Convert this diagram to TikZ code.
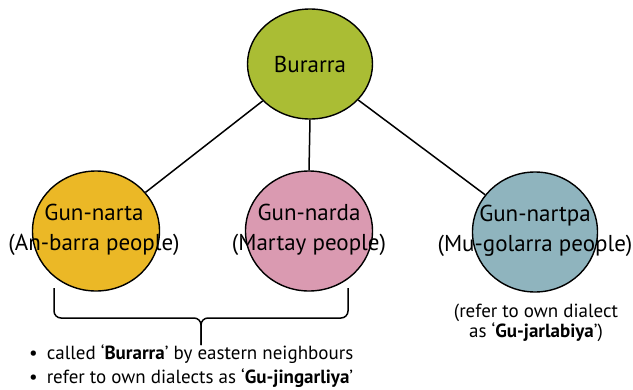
\documentclass[tikz,border=0pt]{standalone}
\usepackage{fontspec}
\setmainfont{PT Sans}
\usetikzlibrary{shapes.geometric}
\definecolor{cBur}{HTML}{AABD34}
\definecolor{cNarta}{HTML}{EBB826}
\definecolor{cNarda}{HTML}{DA9AB1}
\definecolor{cNartpa}{HTML}{8FB4BE}
\begin{document}
\begin{tikzpicture}[x=1pt,y=-1pt,
  circ/.style={ellipse,draw=black,line width=1.4pt,inner sep=0pt,minimum width=127pt,minimum height=120pt},
  lbl/.style={align=center,font=\fontsize{23}{30}\selectfont,inner sep=0pt},
  note/.style={align=center,font=\fontsize{19}{20}\selectfont,inner sep=0pt},
  conn/.style={line width=1.5pt},
  brace/.style={line width=1.5pt,rounded corners=7pt}]
\useasboundingbox (0,0) rectangle (633,389);
\node[circ,fill=cBur,minimum height=110pt,minimum width=125pt] (bur) at (310,64) {};
\node[circ,fill=cNarta] (narta) at (96,231) {};
\node[circ,fill=cNarda] (narda) at (309,231) {};
\node[circ,fill=cNartpa,minimum width=125pt] (nartpa) at (535,232) {};
\draw[conn] (bur) -- (narta);
\draw[conn] (bur.south) -- (narda.north);
\draw[conn] (bur) -- (nartpa);
\node[lbl] (burL) at (bur.center) {Burarra};
\node[lbl] (nartaL) at (94,230) {Gun-narta\\(An-barra people)};
\node[lbl] (nardaL) at (309,230) {Gun-narda\\(Martay people)};
\node[lbl] (nartpaL) at (535,231) {Gun-nartpa\\(Mu-golarra people)};
\node[note] (nartpaN) at (536,323) {(refer to own dialect\\as ‘\textbf{Gu-jarlabiya}’)};
\coordinate (bl) at (54,288);
\coordinate (br) at (348,288);
\coordinate (bm) at (201,318);
\coordinate (bt) at (201,345);
\draw[brace] (bl) |- (bm) -- (bt);
\draw[brace] (br) |- (bm) -- (bt);
\node[note,anchor=west] (b1) at (29,354) {•\hspace{9pt}called ‘\textbf{Burarra}’ by eastern neighbours};
\node[note,anchor=west] (b2) at (29,378) {•\hspace{9pt}refer to own dialects as ‘\textbf{Gu-jingarliya}’};
\end{tikzpicture}
\end{document}
